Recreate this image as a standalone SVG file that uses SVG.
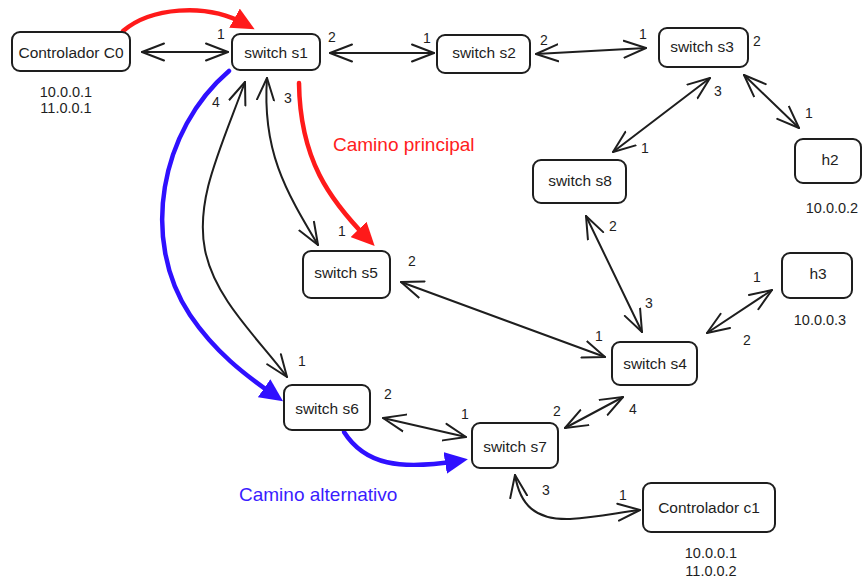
<svg xmlns="http://www.w3.org/2000/svg" width="862" height="581" viewBox="0 0 862 581">
  <style>
    .box { fill: #ffffff; stroke: #1e1e1e; stroke-width: 2; }
    .lbl { font-family: "Liberation Sans", Arial, sans-serif; font-size: 15.5px; fill: #1e1e1e; text-anchor: middle; }
    .ip { font-family: "Liberation Sans", Arial, sans-serif; font-size: 14.5px; fill: #1e1e1e; text-anchor: middle; }
    .port { font-family: "Liberation Sans", Arial, sans-serif; font-size: 14px; fill: #1e1e1e; text-anchor: middle; }
    .link { fill: none; stroke: #1e1e1e; stroke-width: 2; stroke-linecap: round; marker-start: url(#chev); marker-end: url(#chev); }
    .red { fill: none; stroke: #ff1a1a; stroke-width: 4.5; stroke-linecap: round; marker-end: url(#tri-red); }
    .blue { fill: none; stroke: #2f10ff; stroke-width: 4.5; stroke-linecap: round; marker-end: url(#tri-blue); }
    .path-red { font-family: "Liberation Sans", Arial, sans-serif; font-size: 19px; fill: #ff2020; }
    .path-blue { font-family: "Liberation Sans", Arial, sans-serif; font-size: 19px; fill: #3a1cff; }
  </style>
  <defs>
    <marker id="chev" viewBox="0 0 24 20" refX="23" refY="10" markerWidth="24" markerHeight="20" markerUnits="userSpaceOnUse" orient="auto-start-reverse">
      <path d="M1,1.5 L23,10 L1,18.5" fill="none" stroke="#1e1e1e" stroke-width="2" stroke-linecap="round" stroke-linejoin="round"/>
    </marker>
    <marker id="tri-red" viewBox="0 0 24 22" refX="12" refY="11" markerWidth="24" markerHeight="22" markerUnits="userSpaceOnUse" orient="auto">
      <path d="M0,0 L23,11 L0,22 z" fill="#ff1a1a"/>
    </marker>
    <marker id="tri-blue" viewBox="0 0 24 22" refX="12" refY="11" markerWidth="24" markerHeight="22" markerUnits="userSpaceOnUse" orient="auto">
      <path d="M0,0 L23,11 L0,22 z" fill="#2f10ff"/>
    </marker>
  </defs>

  <!-- links between devices -->
  <g id="connectors">
    <path class="link" d="M142,52 L228,52"/>
    <path class="link" d="M330,53 L434,53"/>
    <path class="link" d="M536,54 L646,48"/>
    <path class="link" d="M710,78 L613,152"/>
    <path class="link" d="M744,75 L799,128"/>
    <path class="link" d="M586,216 L642,332"/>
    <path class="link" d="M772,290 L707,333"/>
    <path class="link" d="M401,282 L605,357"/>
    <path class="link" d="M383,418 L466,437"/>
    <path class="link" d="M623,397 L565,428"/>
    <path class="link" d="M515,475 C520,505 535,520 570,519 C600,517 620,512 640,510"/>
    <path class="link" d="M267,78 C262,150 285,190 318,245"/>
    <path class="link" d="M245,82 C220,150 195,200 205,250 C215,300 260,340 287,377"/>

    <!-- highlighted routes -->
    <path class="red" d="M123,31 C150,8 205,2 245,24"/>
    <path class="red" d="M299,83 C300,160 330,200 367,238"/>
    <path class="blue" d="M229,71 C160,130 140,240 190,315 C215,352 245,375 274,395"/>
    <path class="blue" d="M344,432 C365,465 400,470 457,461"/>
  </g>

  <!-- port numbers -->
  <g id="ports">
    <text class="port" x="221" y="39">1</text>
    <text class="port" x="332" y="42">2</text>
    <text class="port" x="427" y="43">1</text>
    <text class="port" x="544" y="45">2</text>
    <text class="port" x="643" y="39">1</text>
    <text class="port" x="757" y="46">2</text>
    <text class="port" x="718" y="96">3</text>
    <text class="port" x="809" y="118">1</text>
    <text class="port" x="645" y="153">1</text>
    <text class="port" x="216" y="107">4</text>
    <text class="port" x="288" y="103">3</text>
    <text class="port" x="342" y="236">1</text>
    <text class="port" x="412" y="266">2</text>
    <text class="port" x="613" y="231">2</text>
    <text class="port" x="649" y="308">3</text>
    <text class="port" x="757" y="282">1</text>
    <text class="port" x="747" y="345">2</text>
    <text class="port" x="599" y="341">1</text>
    <text class="port" x="302" y="366">1</text>
    <text class="port" x="388" y="399">2</text>
    <text class="port" x="465" y="419">1</text>
    <text class="port" x="557" y="416">2</text>
    <text class="port" x="633" y="414">4</text>
    <text class="port" x="546" y="495">3</text>
    <text class="port" x="623" y="500">1</text>
  </g>

  <g id="c0">
    <rect class="box" x="12" y="32" width="118" height="39" rx="8"/>
    <text class="lbl" x="71" y="57.5">Controlador C0</text>
    <text class="ip" x="66" y="97">10.0.0.1</text>
    <text class="ip" x="66" y="113">11.0.0.1</text>
  </g>
  <g id="s1">
    <rect class="box" x="232" y="34" width="88" height="36" rx="8"/>
    <text class="lbl" x="276" y="57.5">switch s1</text>
  </g>
  <g id="s2">
    <rect class="box" x="437" y="35" width="93" height="38" rx="8"/>
    <text class="lbl" x="484" y="57.5">switch s2</text>
  </g>
  <g id="s3">
    <rect class="box" x="659" y="28" width="89" height="39" rx="8"/>
    <text class="lbl" x="702" y="52">switch s3</text>
  </g>
  <g id="s8">
    <rect class="box" x="533" y="160" width="93" height="43" rx="8"/>
    <text class="lbl" x="580" y="185.5">switch s8</text>
  </g>
  <g id="h2">
    <rect class="box" x="795" y="139" width="66" height="44" rx="8"/>
    <text class="lbl" x="830" y="165">h2</text>
    <text class="ip" x="832" y="213">10.0.0.2</text>
  </g>
  <g id="h3">
    <rect class="box" x="782" y="253" width="70" height="45" rx="8"/>
    <text class="lbl" x="818" y="279">h3</text>
    <text class="ip" x="820" y="325">10.0.0.3</text>
  </g>
  <g id="s5">
    <rect class="box" x="303" y="251" width="87" height="47" rx="8"/>
    <text class="lbl" x="346" y="277.5">switch s5</text>
  </g>
  <g id="s4">
    <rect class="box" x="612" y="342" width="85" height="43" rx="8"/>
    <text class="lbl" x="655" y="368.5">switch s4</text>
  </g>
  <g id="s6">
    <rect class="box" x="284" y="385" width="86" height="45" rx="8"/>
    <text class="lbl" x="327" y="413.5">switch s6</text>
  </g>
  <g id="s7">
    <rect class="box" x="472" y="423" width="86" height="45" rx="8"/>
    <text class="lbl" x="515" y="452">switch s7</text>
  </g>
  <g id="c1">
    <rect class="box" x="643" y="483" width="132" height="49" rx="8"/>
    <text class="lbl" x="709" y="512.5">Controlador c1</text>
    <text class="ip" x="711" y="558">10.0.0.1</text>
    <text class="ip" x="711" y="576">11.0.0.2</text>
  </g>

  <text class="path-red" x="333" y="151">Camino principal</text>
  <text class="path-blue" x="239" y="501">Camino alternativo</text>
</svg>
